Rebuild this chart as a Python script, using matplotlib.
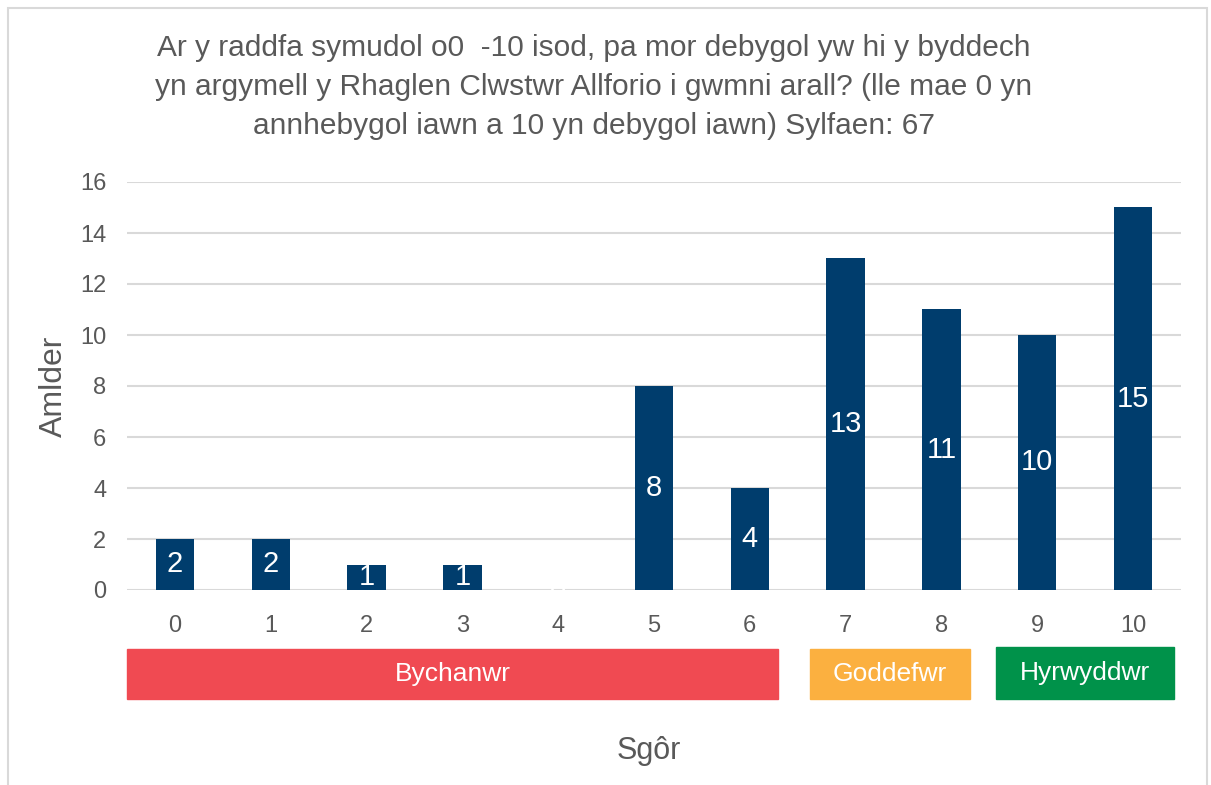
import matplotlib.pyplot as plt
from matplotlib.patches import Rectangle

plt.rcParams['font.family'] = ['Liberation Sans', 'DejaVu Sans']

# data
scores = [0, 1, 2, 3, 4, 5, 6, 7, 8, 9, 10]
counts = [2, 2, 1, 1, 0, 8, 4, 13, 11, 10, 15]
band_labels = ['Bychanwr', 'Goddefwr', 'Hyrwyddwr']
band_colors = ['#F04A52', '#FBB040', '#00924A']

title = ('Ar y raddfa symudol o0  -10 isod, pa mor debygol yw hi y byddech\n'
         'yn argymell y Rhaglen Clwstwr Allforio i gwmni arall? (lle mae 0 yn\n'
         'annhebygol iawn a 10 yn debygol iawn) Sylfaen: 67')

W, H = 1211, 785
grey = '#595959'
navy = '#003D6D'

fig = plt.figure(figsize=(W / 100, H / 100), dpi=100)

# outer chart border
fig.patches.append(Rectangle((8 / W, -0.05), (1207 - 8) / W, 1.05 - 8 / H,
                             transform=fig.transFigure, fill=False,
                             edgecolor='#D9D9D9', lw=1.5))

ax = fig.add_axes([127 / W, 1 - 590 / H, (1181 - 127) / W, (590 - 182) / H])
bars = ax.bar(scores, counts, width=0.4, color=navy, zorder=2)
ax.bar_label(bars, label_type='center', color='white', fontsize=21)

ax.set_xlim(-0.5, 10.5)
ax.set_ylim(0, 16)
ax.set_yticks(range(0, 17, 2))
ax.set_xticks(scores)
ax.yaxis.grid(True, color='#D9D9D9', lw=1.5, zorder=0)
ax.set_axisbelow(True)
for s in ax.spines.values():
    s.set_visible(False)
ax.tick_params(length=0, labelsize=17, labelcolor=grey)
ax.tick_params(axis='y', pad=15)
ax.tick_params(axis='x', pad=18)

fig.text(54 / W, 1 - 386 / H, 'Amlder', rotation=90, ha='center', va='center',
         fontsize=23, color=grey)
fig.text(649 / W, 1 - 751 / H, 'Sgôr', ha='center', va='center',
         fontsize=22, color=grey)
fig.text(594 / W, 1 - 87 / H, title, ha='center', va='center',
         fontsize=21.5, color=grey, linespacing=1.48)

# score band boxes below the axis (x0, x1, y0, y1 in pixels)
band_boxes = [(127, 778, 649, 699), (810, 970, 649, 699), (996, 1174, 647, 699)]
for lab, col, (x0, x1, y0, y1) in zip(band_labels, band_colors, band_boxes):
    fig.patches.append(Rectangle((x0 / W, 1 - y1 / H), (x1 - x0) / W, (y1 - y0) / H,
                                 transform=fig.transFigure, color=col))
    fig.text((x0 + x1) / 2 / W, 1 - (y0 + y1) / 2 / H, lab, ha='center',
             va='center', color='white', fontsize=19)

fig.savefig('out.png', dpi=100)
